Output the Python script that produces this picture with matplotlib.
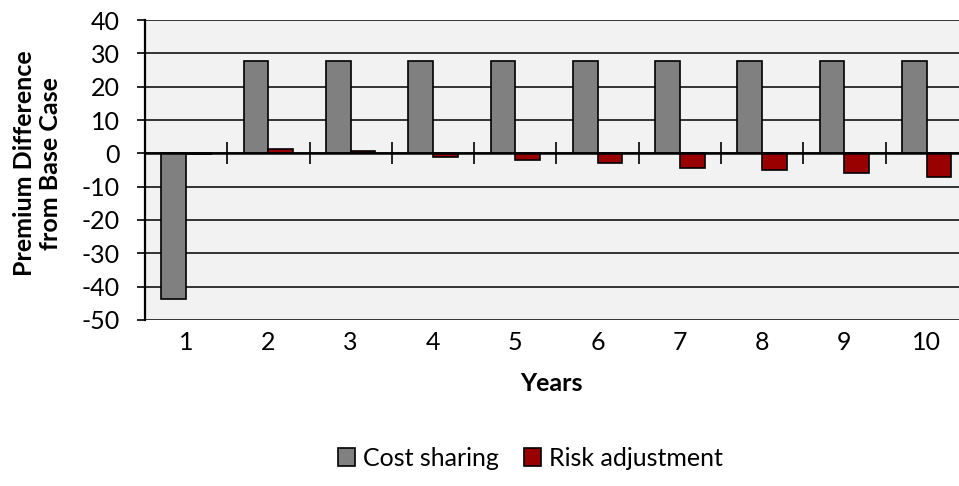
import numpy as np
from matplotlib import pyplot as plt

years = ['1', '2', '3', '4', '5', '6', '7', '8', '9', '10']
cost_sharing = [-43.7, 27.8, 27.8, 27.8, 27.8, 27.8, 27.8, 27.8, 27.8, 27.8]
risk_adjustment = [-0.3, 1.3, 0.7, -1.2, -1.9, -3.0, -4.3, -4.9, -6.0, -7.1]
y_ticks = [-50, -40, -30, -20, -10, 0, 10, 20, 30, 40]

plt.rcParams['font.family'] = ['Lato', 'DejaVu Sans']
fs = 18

fig = plt.figure(figsize=(9.59, 4.86), dpi=100)
ax = fig.add_axes([0.1512, 0.3416, 0.858, 0.6172])
ax.set_facecolor('#f2f2f2')

x = np.arange(len(years))
w = 0.3
ax.bar(x - w / 2, cost_sharing, w, color='#808080', edgecolor='black',
       linewidth=1.2, label='Cost sharing', zorder=3)
ax.bar(x + w / 2, risk_adjustment, w, color='#990000', edgecolor='black',
       linewidth=1.2, label='Risk adjustment', zorder=3)

ax.set_xlim(-0.5, len(years) - 0.5)
ax.set_ylim(-50, 40)
ax.set_yticks(y_ticks)
ax.set_yticklabels([str(v) for v in y_ticks])
ax.yaxis.grid(True, color='black', linewidth=1.1, zorder=0)
ax.set_axisbelow(True)
ax.tick_params(axis='y', direction='out', length=6, width=1.2, pad=12,
               labelsize=fs)

# axis line at zero with category separators
for s in ['top', 'right']:
    ax.spines[s].set_visible(False)
ax.spines['left'].set_linewidth(1.6)
ax.spines['bottom'].set_position(('data', 0))
ax.spines['bottom'].set_linewidth(1.8)
ax.spines['bottom'].set_zorder(4)
ax.set_xticks(np.arange(len(years) + 1) - 0.5)
ax.set_xticklabels([])
ax.tick_params(axis='x', direction='inout', length=16, width=1.2)

sec = ax.secondary_xaxis('bottom')
sec.set_xticks(x)
sec.set_xticklabels(years)
sec.tick_params(length=0, pad=8, labelsize=fs)
sec.spines['bottom'].set_visible(False)

fig.text(0.039, 0.664, 'Premium Difference\nfrom Base Case', rotation=90,
         ha='center', va='center', multialignment='center',
         fontsize=fs, fontweight='bold', linespacing=1.15)
fig.text(0.5746, 0.21, 'Years', ha='center', va='center',
         fontsize=fs, fontweight='bold')

fig.legend(loc='center', bbox_to_anchor=(0.553, 0.0576), ncol=2,
           frameon=False, fontsize=fs, handlelength=0.7, handleheight=0.7,
           handletextpad=0.3, columnspacing=1.0)

fig.savefig('out.png', dpi=100)
